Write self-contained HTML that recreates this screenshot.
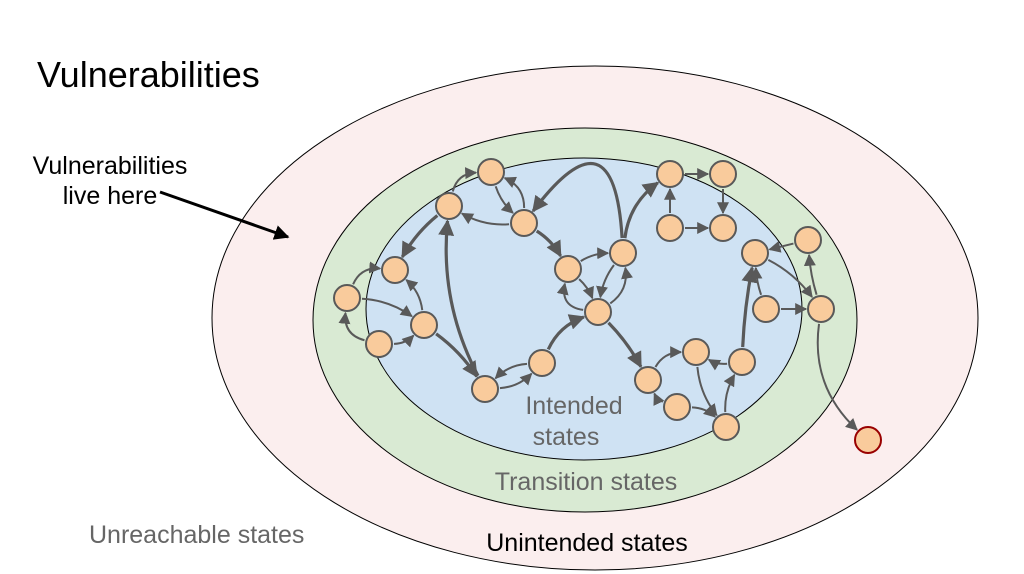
<!DOCTYPE html>
<html><head><meta charset="utf-8"><style>
html,body{margin:0;padding:0;background:#fff;width:1024px;height:574px;overflow:hidden}
svg{display:block}
text{font-family:"Liberation Sans",Arial,sans-serif}
</style></head><body>
<svg id="s" width="1024" height="574" viewBox="0 0 1024 574" xmlns="http://www.w3.org/2000/svg">
<defs>
<marker id="a" viewBox="0 0 10 10" refX="9" refY="5" markerWidth="6" markerHeight="6" orient="auto" markerUnits="strokeWidth"><path d="M0,0 L10,5 L0,10 z" fill="#595959"/></marker>
<marker id="b" viewBox="0 0 10 10" refX="9" refY="5" markerWidth="5" markerHeight="5" orient="auto" markerUnits="strokeWidth"><path d="M0,0 L10,5 L0,10 z" fill="#595959"/></marker>
<marker id="k" viewBox="0 0 10 10" refX="9" refY="5" markerWidth="5" markerHeight="5" orient="auto" markerUnits="strokeWidth"><path d="M0,0 L10,5 L0,10 z" fill="#000"/></marker>
</defs>
<ellipse cx="595" cy="318" rx="383" ry="252" fill="#fbeeee" stroke="#000" stroke-width="1"/>
<ellipse cx="585" cy="320" rx="272" ry="192" fill="#d9ead3" stroke="#000" stroke-width="1"/>
<ellipse cx="584" cy="309" rx="218" ry="151" fill="#cfe2f3" stroke="#000" stroke-width="1"/>
<text x="37" y="87" font-size="36" fill="#000">Vulnerabilities</text>
<text x="110" y="174" font-size="25" text-anchor="middle" fill="#000">Vulnerabilities</text>
<text x="110" y="204" font-size="25" text-anchor="middle" fill="#000">live here</text>
<line x1="160" y1="192" x2="288" y2="237" stroke="#000" stroke-width="3" marker-end="url(#k)"/>
<text x="574" y="414" font-size="25" text-anchor="middle" fill="#666">Intended</text>
<text x="566" y="445" font-size="25" text-anchor="middle" fill="#666">states</text>
<text x="586" y="490" font-size="25" text-anchor="middle" fill="#666">Transition states</text>
<text x="89" y="543" font-size="25" fill="#666">Unreachable states</text>
<text x="587" y="551" font-size="25" text-anchor="middle" fill="#000">Unintended states</text>
<g id="e"></g><g id="n"></g>
</svg>
<script>
var N={A:[449,206],B:[491,172],C:[524,223],D:[395,270],E:[347,298],F:[424,325],G:[379,344],H:[485,389],I:[542,363],J:[568,269],K:[623,253],L:[598,312],M:[670,174],N:[723,174],O:[670,228],P:[723,228],Q:[755,253],R:[808,240],S:[766,309],T:[821,309],U:[696,352],V:[742,362],W:[648,380],X:[677,407],Y:[726,427],Z:[868,440]};
var E=[["A","B",-10,0],["B","C",4,0],["C","B",10,0],["C","A",-6,0],["A","D",4,1],["E","D",-10,0],["E","F",-6,0],["G","E",-12,0],["G","F",5,0],["F","D",6,0],["F","H",-4,1],["H","A",-14,1],["I","H",6,0],["H","I",6,0],["I","L",-8,1],["K","C",70,1],["C","J",-4,1],["J","K",-4,0],["J","L",-3,0],["K","L",4,0],["L","K",10,0],["L","J",-14,0],["K","M",-10,1],["L","W",-3,1],["M","N",0,0],["N","P",0,0],["O","M",0,0],["O","P",0,0],["W","U",-8,0],["X","W",-4,0],["X","Y",-5,0],["U","Y",6,0],["Y","V",-5,0],["V","U",-4,0],["V","Q",-2,1],["S","Q",-2,0],["S","T",0,0],["Q","T",-5,0],["R","Q",0,0],["T","R",-2,0],["T","Z",18,0]];
var g=document.getElementById('e'),ns="http://www.w3.org/2000/svg",r=15;
E.forEach(function(e){var a=N[e[0]],b=N[e[1]],dx=b[0]-a[0],dy=b[1]-a[1],L=Math.hypot(dx,dy),ux=dx/L,uy=dy/L,px=-uy,py=ux,c=e[2];
var mx=(a[0]+b[0])/2+px*c*2,my=(a[1]+b[1])/2+py*c*2;
var s1x=mx-a[0],s1y=my-a[1],l1=Math.hypot(s1x,s1y),s2x=b[0]-mx,s2y=b[1]-my,l2=Math.hypot(s2x,s2y);
var x1=a[0]+s1x/l1*r,y1=a[1]+s1y/l1*r,x2=b[0]-s2x/l2*r,y2=b[1]-s2y/l2*r;
var p=document.createElementNS(ns,'path');p.setAttribute('d','M'+x1+','+y1+' Q'+mx+','+my+' '+x2+','+y2);
p.setAttribute('fill','none');p.setAttribute('stroke','#595959');p.setAttribute('stroke-width',e[3]?3.2:2);p.setAttribute('marker-end',e[3]?'url(#b)':'url(#a)');g.appendChild(p);});
var h=document.getElementById('n');
for(var k in N){var c=document.createElementNS(ns,'circle');c.setAttribute('cx',N[k][0]);c.setAttribute('cy',N[k][1]);c.setAttribute('r',13);c.setAttribute('fill','#f9cb9c');c.setAttribute('stroke',k=='Z'?'#990000':'#595959');c.setAttribute('stroke-width',2);h.appendChild(c);}
</script>
</body></html>
